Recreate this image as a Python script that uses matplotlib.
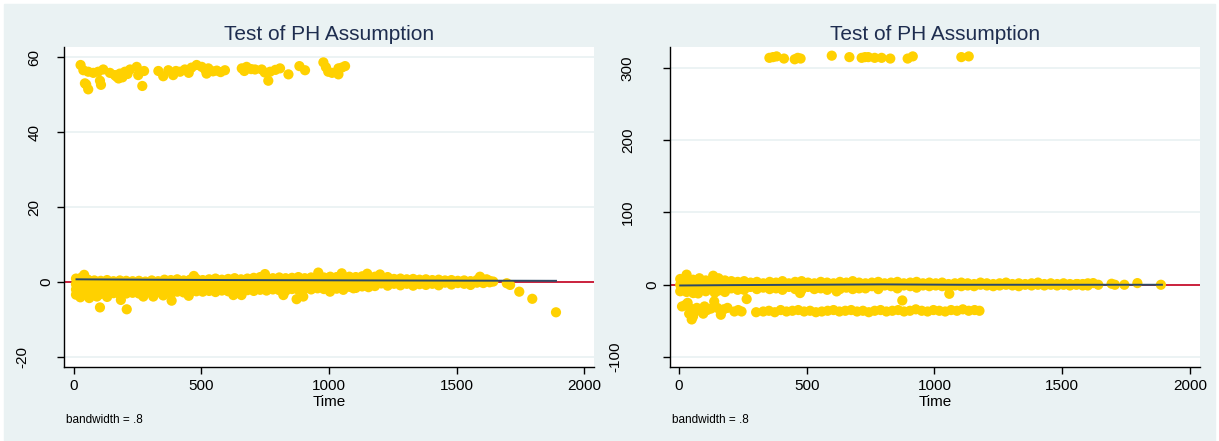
import numpy as np
import matplotlib
matplotlib.use('Agg')
import matplotlib.pyplot as plt
from matplotlib.patches import Rectangle
from matplotlib.transforms import offset_copy

plt.rcParams['font.family'] = ['Liberation Sans', 'DejaVu Sans']

nan = np.nan

GOLD = '#FFD100'
RED = '#C8102E'
NAVY = '#2E4A66'
GRID = '#EAF2F3'
BG = '#EAF2F3'
TITLE = '#1E2D4F'

# ---- left panel : upper cluster (around 55)
upper_left = [(26, 57.9), (37, 56.5), (43, 53.0), (48, 52.7), (56, 56.1), (56, 51.4),
              (76, 55.8), (95, 56.1), (102, 53.7), (106, 52.6), (115, 56.7), (141, 55.8),
              (160, 55.2), (167, 54.8), (175, 54.3), (180, 55.6), (190, 54.6), (200, 56.1),
              (210, 55.5), (220, 56.7), (246, 57.4), (252, 55.2), (268, 52.3), (275, 56.3),
              (331, 56.3), (350, 54.9), (370, 56.5), (389, 55.2), (400, 56.3), (416, 56.1),
              (435, 56.7), (450, 55.8), (461, 57.2), (481, 57.9), (501, 57.4), (515, 56.6),
              (520, 55.6), (527, 57.0), (545, 56.2), (560, 56.4), (575, 56.0), (592, 56.5),
              (658, 57.0), (668, 56.3), (677, 57.4), (695, 56.8), (710, 56.7), (736, 56.7),
              (748, 55.9), (762, 53.7), (769, 56.1), (790, 56.6), (808, 57.0), (841, 55.4),
              (884, 57.6), (906, 56.5), (978, 58.6), (988, 57.3), (997, 56.1), (1012, 55.8),
              (1037, 55.4), (1037, 57.0), (1050, 57.2), (1063, 57.6)]

# ---- left panel : dense band around 0, read column by column
band_left_x = [8, 30, 55, 80, 105, 130, 155, 180, 205, 230,
               255, 280, 305, 330, 355, 380, 405, 430, 455, 480,
               505, 530, 555, 580, 605, 630, 655, 680, 705, 730,
               755, 780, 805, 830, 855, 880, 905, 930, 955, 980,
               1005, 1030, 1055, 1080, 1105, 1130, 1155, 1180, 1205, 1230,
               1255, 1280, 1305, 1330, 1355, 1380, 1405, 1430, 1455, 1480,
               1505, 1530, 1555, 1580, 1605, 1630]
band_left_r1 = [0.9, 1.2, 0.6, 0.4, 0.3, 0.5, 0.2, 0.4, 0.3, 0.2,
                0.3, 0.1, 0.4, 0.2, 0.6, 0.5, 0.7, 0.4, 0.6, 0.8,
                0.5, 0.7, 0.9, 0.6, 0.8, 1.0, 0.7, 0.9, 1.1, 1.3,
                0.9, 1.0, 1.2, 1.0, 1.1, 1.3, 1.0, 1.2, 1.5, 1.2,
                1.4, 1.3, 1.2, 1.4, 1.3, 1.5, 1.2, 1.4, 1.1, 1.3,
                0.8, 0.9, 0.7, 0.8, 0.6, 0.7, 0.5, 0.6, 0.4, 0.5,
                0.3, 0.4, 0.2, 0.5, 0.6, 0.3]
band_left_r2 = [-0.6, -0.9, -1.0, -0.7, -0.9, -0.6, -0.8, -0.7, -0.9, -0.8,
                -0.6, -0.8, -0.5, -0.7, -0.6, -0.4, -0.6, -0.5, -0.3, -0.5,
                -0.4, -0.2, -0.4, -0.3, -0.5, -0.2, -0.3, -0.1, -0.2, 0.0,
                -0.2, 0.1, -0.1, 0.0, 0.2, -0.1, 0.1, 0.0, 0.3, 0.1,
                0.2, 0.1, 0.3, 0.2, 0.4, 0.3, 0.5, 0.3, 0.4, 0.3,
                0.2, 0.3, 0.1, 0.2, 0.0, 0.2, 0.1, 0.0, 0.1, -0.1,
                0.0, -0.1, 0.1, -0.2, 0.0, -0.1]
band_left_r3 = [-2.0, -2.3, -2.1, -2.4, -2.0, -2.2, -1.9, -2.1, -2.2, -2.0,
                -1.9, -2.0, -1.8, -2.1, -1.7, -1.9, -1.6, -1.8, -1.7, -1.5,
                -1.7, -1.4, -1.6, -1.5, -1.3, -1.6, -1.4, -1.2, -1.5, -1.3,
                -1.1, -1.4, -1.2, -1.0, -1.3, -1.1, -0.9, -1.2, -1.0, -0.8,
                -1.1, -0.9, -0.7, -0.9, -0.6, -0.8, -0.5, -0.7, -0.4, -0.6,
                -0.5, -0.3, -0.5, -0.4, -0.6, -0.3, -0.5, -0.4, -0.2, -0.4,
                -0.3, -0.5, -0.2, nan, -0.3, nan]
band_left_r4 = [-3.4, -3.6, -3.3, -3.5, -3.2, -3.4, -3.0, -3.3, -3.1, -2.9,
                -3.1, -2.8, -3.0, -2.7, -2.9, -3.2, -2.6, -2.8, -2.7, -2.5,
                -2.6, -2.4, -2.7, -2.3, -2.5, -2.4, -2.6, -2.2, -2.4, -2.1,
                -2.3, -2.0, -2.2, -2.4, -1.9, -2.1, -1.8, -2.0, -1.7, -1.9,
                -1.6, -1.8, -1.5, -1.3, -1.6, -1.2, -1.4, -1.1, nan, -1.0,
                nan, -0.9, nan, -1.0, nan, -0.8, nan, -0.9, nan, -0.7,
                nan, nan, -0.8, nan, nan, nan]

# stray points around the left band (and the tail after 1650)
stray_left = [(15, -1.6), (25, -4.1), (40, 1.9), (60, -4.3), (90, -3.9), (102, -6.8),
              (130, -4.0), (184, -4.8), (207, -7.3), (272, -3.9), (311, -3.9), (350, -3.6),
              (383, -5.0), (450, -3.7), (470, 1.6), (625, -3.5), (657, -3.5), (749, 2.1),
              (821, -3.5), (873, -4.6), (899, -3.9), (958, 2.5), (1004, -2.6), (1050, 2.3),
              (1056, -2.1), (1096, -1.7), (1150, 2.2), (1200, 2.0), (1592, 1.4), (1618, 0.7),
              (1644, 0.1), (1697, -0.35), (1710, -0.8), (1746, -2.6), (1797, -4.5), (1890, -8.1)]

lowess_left_x = [10, 300, 600, 900, 1200, 1500, 1890]
lowess_left_y = [0.7, 0.6, 0.5, 0.45, 0.4, 0.35, 0.3]

# ---- right panel : upper cluster (around 314)
upper_right_x = [354, 368, 382, 411, 453, 465, 476, 598, 667, 715, 728, 741, 766, 793, 827, 895, 915, 1105, 1134]
upper_right_y = [314, 315, 316, 313, 312, 314, 313, 317, 315, 314, 315, 315, 314, 314, 313, 313, 316, 315, 316]

# ---- right panel : band around 0
band_right_x = [5, 30, 55, 80, 105, 130, 155, 180, 205, 230,
                255, 280, 305, 330, 355, 380, 405, 430, 455, 480,
                505, 530, 555, 580, 605, 630, 655, 680, 705, 730,
                755, 780, 805, 830, 855, 880, 905, 930, 955, 980,
                1005, 1030, 1055, 1080, 1105, 1130, 1155, 1180, 1205, 1230,
                1255, 1280, 1305, 1330, 1355, 1380, 1405, 1430, 1455, 1480,
                1505, 1530, 1555, 1580, 1600]
band_right_r1 = [8, 10, 7, 9, 6, 5, 9, 6, 5, 4,
                 5, 3, 4, 2, 4, 3, 5, 2, 4, 5,
                 3, 2, 4, 3, 2, 4, 3, 5, 3, 2,
                 3, 4, 2, 3, 4, 2, 3, 4, 2, 3,
                 2, 3, 1, 2, 3, 2, 1, 3, 2, 1,
                 2, 3, 1, 2, 1, 2, 3, 1, 2, 1,
                 2, 1, 0, 1, 2]
band_right_r2 = [0, -2, 1, -1, -3, 0, -2, -1, -3, -2,
                 -4, -3, -5, -4, -3, -5, -4, -3, -5, -4,
                 -3, -4, -5, -3, -4, -2, -4, -3, -5, -3,
                 -2, -3, -1, -2, -3, -1, -2, -3, -1, -2,
                 -1, -2, -3, -1, -2, -1, -2, 0, -1, -2,
                 -1, 0, -1, -2, 0, -1, 0, -1, 0, -1,
                 0, -1, 1, 0, -1]
band_right_r3_x = [5, 30, 55, 80, 105, 130, 155, 180, 205, 230, 255, 305,
                   355, 405, 455, 480, 530, 580, 630, 680, 730, 780, 855, 930]
band_right_r3_y = [-9, -10, -8, -7, -9, -6, -8, -10, -5, -7, -7, -6,
                   -6, -7, -6, -7, -6, -7, -6, -6, -5, -6, -5, -4]

# ---- right panel : lower band (around -36)
lower_right_x = [330, 352, 375, 398, 421, 444, 467, 490, 513, 536, 559, 582, 605,
                 628, 651, 674, 697, 720, 743, 766, 789, 812, 835, 858, 881, 904,
                 927, 950, 973, 996, 1019, 1042, 1065, 1088, 1111, 1134, 1157, 1176]
lower_right_y = [-37, -36, -38, -35, -37, -36, -35, -37, -36, -38, -37, -36, -35,
                 -37, -36, -35, -37, -36, -38, -36, -35, -37, -36, -35, -37, -36,
                 -34, -36, -37, -35, -36, -37, -35, -36, -34, -36, -35, -36]

stray_right = [(30, 14), (134, 12.5), (56, -11.5), (75, -12), (140, -11), (474, -11.5),
               (617, -9.2), (1058, -12.5), (265, -19.8), (874, -21.7),
               (12, -30), (25, -28), (34, -25), (40, -40), (45, -33), (50, -48), (55, -44),
               (60, -38), (70, -32), (85, -36), (95, -40), (100, -30), (110, -35), (125, -33),
               (138, -23), (150, -32), (164, -41.5), (175, -34), (190, -32), (217, -37),
               (232, -35), (245, -37), (302, -38),
               (1560, 1), (1580, -1), (1621, 2.3), (1641, 0), (1693, 1.4), (1706, 0),
               (1743, 0), (1794, 2.3), (1886, 0)]

lowess_right_x = [5, 200, 500, 800, 1100, 1400, 1700, 1890]
lowess_right_y = [-1, -0.5, 0, 0.5, 0, 0, 0, 0]


def draw_panel(ax, point_sets, lowess_x, lowess_y, xlim, ylim, yticks):
    ax.set_facecolor('white')
    for yt in yticks:
        ax.axhline(yt, color=GRID, lw=1.3, zorder=1)
    ax.axhline(0, color=RED, lw=1.3, zorder=2)

    for xs, ys in point_sets:
        ax.scatter(xs, ys, s=54, color=GOLD, edgecolors='none', zorder=3)

    ax.plot(lowess_x, lowess_y, color=NAVY, lw=1.4, zorder=4)

    ax.set_xlim(xlim)
    ax.set_ylim(ylim)
    ax.set_xticks([0, 500, 1000, 1500, 2000])
    ax.set_yticks(yticks)
    ax.set_yticklabels([])
    ax.tick_params(direction='out', length=5, width=1, labelsize=11, pad=4, colors='black')
    for side in ['top', 'right']:
        ax.spines[side].set_visible(False)
    for side in ['left', 'bottom']:
        ax.spines[side].set_color('black')
        ax.spines[side].set_linewidth(1)

    ax.set_xlabel('Time', fontsize=11, va='top')
    ax.xaxis.set_label_coords(0.5, -0.088)
    ax.set_title('Test of PH Assumption', fontsize=15, color=TITLE, pad=5)

    # rotated y labels, longer labels sit further from the axis (like the original)
    for yt in yticks:
        lab = str(yt)
        off = 17.5 + 12.3 * (len(lab) - 1)
        tr = offset_copy(ax.get_yaxis_transform(), fig=ax.figure, x=-off, y=0, units='dots')
        ax.text(0, yt, lab, transform=tr, rotation=90, ha='center', va='center', fontsize=11)

    ax.text(0.004, -0.166, 'bandwidth = .8', transform=ax.transAxes,
            fontsize=8.5, va='center', ha='left')


W, H = 1219, 441
fig = plt.figure(figsize=(W / 100, H / 100), dpi=100)
fig.patch.set_facecolor('white')
fig.add_artist(Rectangle((4 / W, 0), 1211 / W, 437 / H, transform=fig.transFigure,
                         color=BG, zorder=-10))

ax1 = fig.add_axes([64 / W, (H - 367) / H, 530 / W, 320 / H])
ax2 = fig.add_axes([670 / W, (H - 367) / H, 530 / W, 320 / H])

sl = list(zip(*stray_left))
ul = list(zip(*upper_left))
left_sets = [(ul[0], ul[1]),
             (band_left_x, band_left_r1), (band_left_x, band_left_r2),
             (band_left_x, band_left_r3), (band_left_x, band_left_r4),
             (sl[0], sl[1])]
draw_panel(ax1, left_sets, lowess_left_x, lowess_left_y,
           (-39, 2039), (-22.7, 62.7), [-20, 0, 20, 40, 60])

sr = list(zip(*stray_right))
right_sets = [(upper_right_x, upper_right_y),
              (band_right_x, band_right_r1), (band_right_x, band_right_r2),
              (band_right_r3_x, band_right_r3_y),
              (lower_right_x, lower_right_y),
              (sr[0], sr[1])]
draw_panel(ax2, right_sets, lowess_right_x, lowess_right_y,
           (-35, 2039), (-113.8, 329), [-100, 0, 100, 200, 300])

plt.savefig('out.png', dpi=100)
